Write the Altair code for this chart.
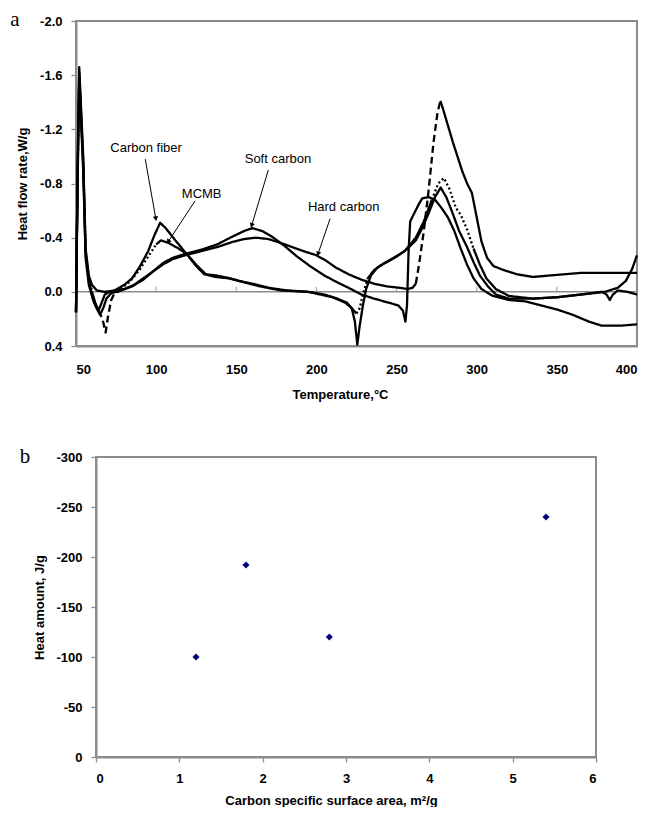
import altair as alt
import pandas as pd

# ---------------- Panel a : DSC curves ----------------
cf_T = [50, 51, 52, 53, 54.5, 56, 58, 60, 63, 68, 74, 80, 85, 90, 95, 99, 102.5, 106, 112, 119, 125, 130, 137, 145, 152, 160, 170, 182, 195, 205, 213, 219, 222, 224, 225.5, 227, 229, 231, 234, 238, 244, 250, 256, 262, 266, 270, 274, 277.5, 281, 285, 289, 294, 298, 302, 307, 312, 320, 335, 350, 365, 380, 388, 393, 397, 400]
cf_v = [0.15, -0.9, -1.66, -1.4, -1.0, -0.32, -0.12, -0.05, -0.01, 0.0, -0.01, -0.05, -0.1, -0.19, -0.3, -0.42, -0.51, -0.47, -0.38, -0.28, -0.19, -0.13, -0.11, -0.1, -0.08, -0.06, -0.03, -0.01, 0.0, 0.02, 0.05, 0.08, 0.12, 0.22, 0.39, 0.25, 0.1, -0.02, -0.12, -0.18, -0.22, -0.26, -0.31, -0.38, -0.47, -0.58, -0.7, -0.77, -0.7, -0.58, -0.45, -0.33, -0.22, -0.12, -0.04, 0.02, 0.05, 0.05, 0.04, 0.02, 0.0, -0.03, -0.08, -0.17, -0.27]

mc_T = [50, 51, 52, 53, 54.5, 56, 58, 60, 62, 64, 66, 68, 71, 78, 84, 90, 95, 100, 103, 108, 114, 119, 125, 131, 138, 146, 155, 165, 178, 195, 210, 218, 222, 225, 227, 229, 232, 236, 242, 248, 255, 262, 267, 272, 276, 279.5, 283, 287, 290, 294, 298, 302, 306, 312, 320, 335, 350, 365, 378, 381, 383, 385, 388, 394, 400]
mc_v = [0.15, -0.85, -1.6, -1.35, -0.95, -0.3, -0.1, 0.0, 0.08, 0.14, 0.08, 0.02, 0.0, -0.02, -0.08, -0.17, -0.26, -0.35, -0.38, -0.36, -0.32, -0.28, -0.2, -0.13, -0.12, -0.1, -0.07, -0.04, -0.01, 0.0, 0.04, 0.08, 0.12, 0.16, 0.12, 0.02, -0.1, -0.16, -0.21, -0.25, -0.3, -0.4, -0.52, -0.68, -0.8, -0.84, -0.76, -0.62, -0.57, -0.46, -0.32, -0.2, -0.1, -0.02, 0.03, 0.05, 0.04, 0.02, 0.0, 0.02, 0.06, 0.02, -0.01, 0.0, 0.02]

sc_T = [50, 51, 52, 53, 54.5, 56, 58, 60, 62, 65, 67, 69, 72, 78, 85, 92, 98, 104, 110, 118, 128, 138, 148, 155, 160, 166, 172, 180, 188, 196, 205, 213, 220, 228, 236, 245, 251, 254, 255.5, 256.5, 257.5, 258.5, 261, 264, 266, 270, 274, 278, 282, 286, 290, 294, 298, 303, 310, 320, 330, 340, 350, 360, 370, 378, 390, 400]
sc_v = [0.15, -0.9, -1.62, -1.35, -0.95, -0.28, -0.1, 0.03, 0.1, 0.17, 0.12, 0.05, 0.01, -0.01, -0.04, -0.09, -0.15, -0.21, -0.25, -0.28, -0.31, -0.35, -0.41, -0.45, -0.47, -0.45, -0.41, -0.34, -0.26, -0.19, -0.12, -0.07, -0.03, 0.02, 0.05, 0.08, 0.1, 0.14, 0.22, 0.1, -0.3, -0.52, -0.58, -0.65, -0.69, -0.7, -0.68, -0.62, -0.55, -0.45, -0.32, -0.2, -0.1, -0.02, 0.03, 0.06, 0.07, 0.1, 0.13, 0.17, 0.22, 0.25, 0.25, 0.24]

hc_T = [50, 51, 52, 53, 54.5, 56, 58, 61, 64, 66.5, 68.5, 70, 72, 74, 76, 80, 86, 92, 98, 104, 110, 118, 128, 138, 148, 155, 162, 170, 178, 185, 192, 200, 206, 212, 220, 228, 236, 244, 252, 257, 260, 262, 264, 267, 270, 273, 275.5, 277.3, 279, 282, 285, 288, 291, 294, 297, 300, 303, 306.5, 310.5, 317, 325, 335, 345, 355, 365, 375, 385, 400]
hc_v = [0.15, -0.8, -1.55, -1.3, -0.9, -0.25, -0.05, 0.07, 0.14, 0.2, 0.3, 0.18, 0.06, 0.01, 0.0, -0.02, -0.05, -0.1, -0.15, -0.2, -0.24, -0.27, -0.3, -0.33, -0.37, -0.39, -0.4, -0.39, -0.36, -0.33, -0.3, -0.27, -0.23, -0.18, -0.13, -0.09, -0.06, -0.04, -0.03, -0.02, -0.03, -0.06, -0.2, -0.45, -0.75, -1.1, -1.32, -1.41, -1.35, -1.23, -1.11, -1.0, -0.89, -0.8, -0.73, -0.55, -0.37, -0.25, -0.19, -0.16, -0.13, -0.11, -0.12, -0.13, -0.14, -0.14, -0.14, -0.14]

# stretches of the traces that look dashed / dotted in the scan
mc_special = [(51, 60, "dotted"), (78, 100, "dotted"), (225, 232, "dotted"), (272, 298, "dotted")]
hc_special = [(64, 76, "dashed"), (262, 277.3, "dashed")]

series_names = ["Carbon fiber", "MCMB", "Soft carbon", "Hard carbon"]
series_T = [cf_T, mc_T, sc_T, hc_T]
series_v = [cf_v, mc_v, sc_v, hc_v]
series_special = [[], mc_special, [], hc_special]

# annotations
ann_label = ["Carbon fiber", "MCMB", "Soft carbon", "Hard carbon"]
ann_T = [93.75, 128.4, 176, 217]
ann_v = [-1.06, -0.72, -0.98, -0.63]
arr_T1 = [93.2, 124.2, 170, 208.5]
arr_v1 = [-0.98, -0.67, -0.90, -0.54]
arr_T2 = [99.8, 107.5, 159.6, 201]
arr_v2 = [-0.54, -0.37, -0.49, -0.28]
arr_angle = [351, 34, 17, 18]

temp_ticks = [50, 100, 150, 200, 250, 300, 350, 400]
flow_ticks = [-2.0, -1.6, -1.2, -0.8, -0.4, 0.0, 0.4]

# ---------------- Panel b : heat vs surface area ----------------
surface_area = [1.2, 1.8, 2.8, 5.4]
heat_amount = [-100, -192, -120, -240]
sa_ticks = [0, 1, 2, 3, 4, 5, 6]
heat_ticks = [-300, -250, -200, -150, -100, -50, 0]

GRAY = "#8c8c8c"
MINUS_FIX = "replace(datum.label, '\u2212', '-')"
INDENT = 20  # lower panel frame starts further right than the upper one


def build_rows(name, T, V, special):
    cuts = sorted(set([T[0], T[-1]] + [t for s in special for t in s[:2]]))
    rows = []
    for k, (a, b) in enumerate(zip(cuts[:-1], cuts[1:])):
        style = "solid"
        for t0, t1, st in special:
            if t0 <= a and b <= t1:
                style = st
        for t, v in zip(T, V):
            if a <= t <= b:
                rows.append({"series": name, "seg": f"{name}-{k}", "style": style, "T": t, "v": v})
    return rows


rows = []
for n, T, V, S in zip(series_names, series_T, series_v, series_special):
    rows += build_rows(n, T, V, S)
curves = pd.DataFrame(rows)

ann = pd.DataFrame({"label": ann_label, "T": ann_T, "v": ann_v})
arrows = pd.DataFrame({"T": arr_T1, "v": arr_v1, "T2": arr_T2, "v2": arr_v2, "ang": arr_angle})

xs = alt.Scale(domain=[50, 400], nice=False, zero=False)
ys = alt.Scale(domain=[-2.0, 0.4], reverse=True, nice=False, zero=False)

x_axis_a = alt.Axis(values=temp_ticks, format="d", ticks=False, tickSize=0, labelPadding=17,
                    title="Temperature,°C", titleX=264, titlePadding=12)
y_axis_a = alt.Axis(values=flow_ticks, format=".1f", labelExpr=MINUS_FIX, tickSize=5,
                    labelPadding=9, title="Heat flow rate,W/g", titlePadding=10)

zero = alt.Chart(pd.DataFrame({"v": [0.0]})).mark_rule(color=GRAY, strokeWidth=1.5).encode(
    y=alt.Y("v:Q", scale=ys, axis=y_axis_a)
)
zero_ticks = alt.Chart(pd.DataFrame({"T": temp_ticks[1:-1], "v": [0.0] * 6})).mark_tick(
    orient="vertical", size=5, thickness=1.3, color=GRAY, yOffset=-2.5
).encode(x=alt.X("T:Q", scale=xs, axis=x_axis_a), y=alt.Y("v:Q", scale=ys))

lines = alt.Chart(curves).mark_line(color="black", strokeWidth=2.3, strokeJoin="round").encode(
    x=alt.X("T:Q", scale=xs),
    y=alt.Y("v:Q", scale=ys),
    detail="seg:N",
    order="T:Q",
    strokeDash=alt.StrokeDash("style:N", scale=alt.Scale(domain=["solid", "dashed", "dotted"],
                                                         range=[[1, 0], [7, 4], [2, 2.5]]), legend=None),
)

arrow_lines = alt.Chart(arrows).mark_rule(color="black", strokeWidth=1).encode(
    x=alt.X("T:Q", scale=xs), y=alt.Y("v:Q", scale=ys), x2="T2:Q", y2="v2:Q"
)
arrow_heads = alt.Chart(arrows).mark_point(shape="triangle-down", filled=True, size=28, color="black", opacity=1).encode(
    x=alt.X("T2:Q", scale=xs), y=alt.Y("v2:Q", scale=ys), angle=alt.Angle("ang:Q", scale=None)
)
labels = alt.Chart(ann).mark_text(font="Liberation Sans", fontSize=13, color="black").encode(
    x=alt.X("T:Q", scale=xs), y=alt.Y("v:Q", scale=ys), text="label:N"
)
tag_a = alt.Chart(pd.DataFrame({"t": ["a"]})).mark_text(
    font="Liberation Serif", fontSize=21, align="center", baseline="middle", color="black"
).encode(x=alt.value(-61), y=alt.value(-1), text="t:N")

top = alt.layer(zero, zero_ticks, lines, arrow_lines, arrow_heads, labels, tag_a).properties(width=561, height=325)

# ---------------- bottom panel ----------------
W_B, H_B = 500, 300
pts = pd.DataFrame({"sa": surface_area, "heat": heat_amount})
xs_b = alt.Scale(domain=[0, 6], nice=False, zero=False, range=[INDENT, INDENT + W_B])
ys_b = alt.Scale(domain=[-300, 0], reverse=True, nice=False)

scatter = alt.Chart(pts).mark_point(shape="diamond", filled=True, size=50, color="#00007a", opacity=1).encode(
    x=alt.X("sa:Q", scale=xs_b, axis=alt.Axis(values=sa_ticks, format="d", tickSize=5, labelPadding=10,
                                              title="Carbon specific surface area, m²/g", titleX=INDENT + 235,
                                              titlePadding=9)),
    y=alt.Y("heat:Q", scale=ys_b, axis=alt.Axis(values=heat_ticks, format="d", labelExpr=MINUS_FIX, tickSize=5,
                                                offset=-INDENT, labelPadding=9, title="Heat amount, J/g",
                                                titlePadding=9)),
)
frame_b = alt.Chart(pd.DataFrame({"k": [0]})).mark_rect(fillOpacity=0, stroke=GRAY, strokeWidth=2).encode(
    x=alt.value(INDENT), x2=alt.value(INDENT + W_B), y=alt.value(0), y2=alt.value(H_B)
)
tag_b = alt.Chart(pd.DataFrame({"t": ["b"]})).mark_text(
    font="Liberation Serif", fontSize=21, align="center", baseline="middle", color="black"
).encode(x=alt.value(INDENT - 71), y=alt.value(0), text="t:N")

bottom = alt.layer(frame_b, scatter, tag_b).properties(
    width=INDENT + W_B, height=H_B, view=alt.ViewBackground(stroke=None)
)

chart = alt.vconcat(top, bottom, spacing=44).properties(
    padding={"left": 1, "top": 0, "right": 0, "bottom": 0}
).configure_view(stroke=GRAY, strokeWidth=2).configure_axis(
    labelFont="Liberation Sans", labelFontSize=13, labelFontWeight="bold", labelColor="black",
    titleFont="Liberation Sans", titleFontSize=13, titleFontWeight="bold", titleColor="black",
    domainColor=GRAY, domainWidth=2, tickColor=GRAY, tickWidth=1.3, grid=False
)

chart.save("out.html", embed_options={"renderer": "svg", "actions": False})
